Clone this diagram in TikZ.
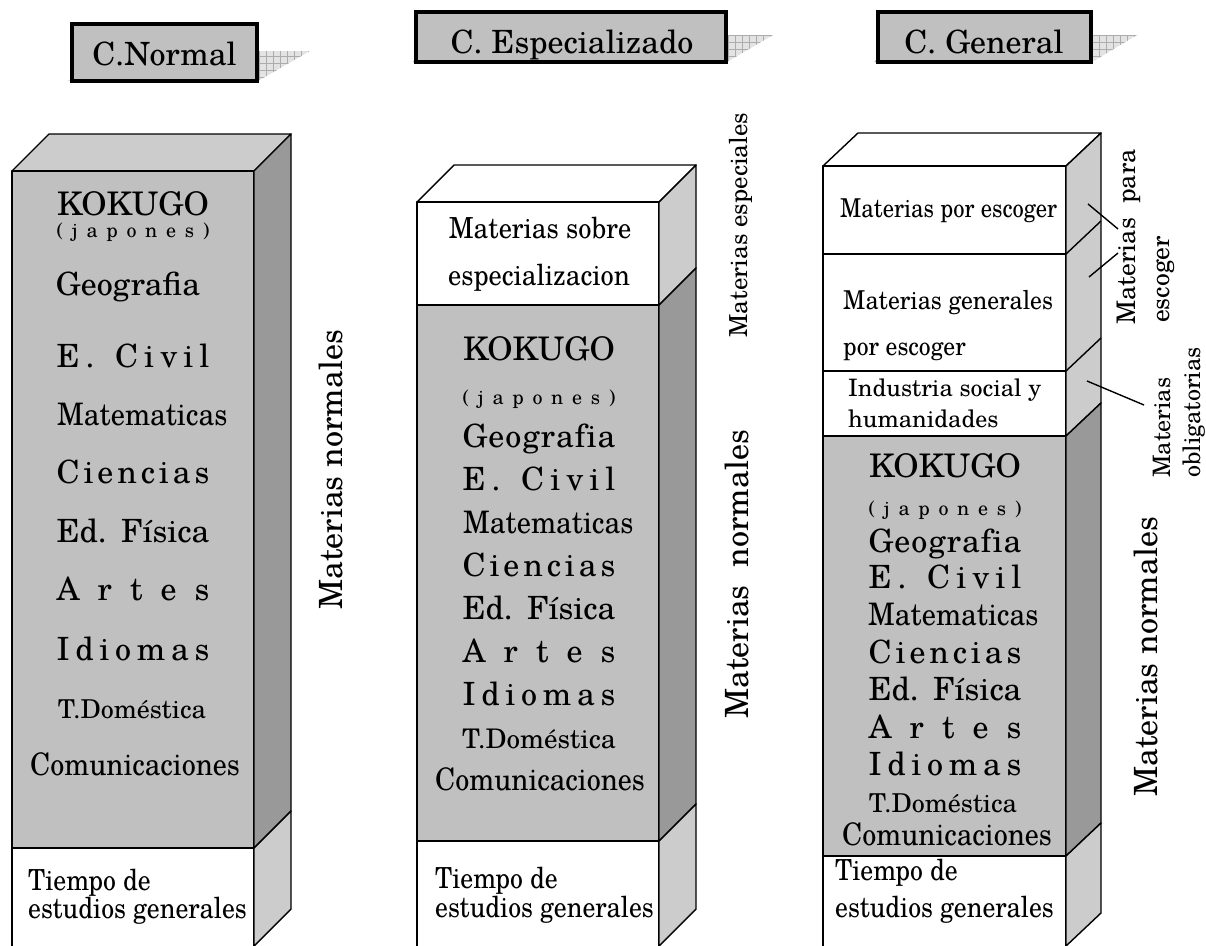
\documentclass[tikz,border=0pt]{standalone}
\usepackage{fontspec}
\usepackage{graphicx}
\setmainfont{texgyreschola-regular.otf}
\definecolor{grayF}{HTML}{C0C0C0}
\definecolor{grayD}{HTML}{999999}
\definecolor{grayL}{HTML}{CCCCCC}
\newcommand\dis[1]{\makebox[153pt][s]{#1}}
\newcommand\fs[1]{\fontsize{#1}{#1}\selectfont}
\newcommand\cx[3]{\scalebox{#1}[1]{\fs{#2}#3}}
\tikzset{
  ln/.style={draw=black, line width=1.4pt, line join=round},
  hbox/.style={draw=black, line width=3.5pt, fill=grayF, rectangle, inner sep=0pt},
  htxt/.style={inner sep=0pt, anchor=base, font=\fs{32}},
  itm/.style={inner sep=0pt, anchor=base, font=\fs{32}},
  lt/.style={inner sep=0pt, anchor=base west},
  rl/.style={inner sep=0pt, rotate=90, anchor=base west},
  shad/.style={fill=gray!22},
  gridl/.style={draw=gray!65, line width=0.5pt},
}
\begin{document}
\begin{tikzpicture}[x=1pt,y=-1pt]
\useasboundingbox (0,0) rectangle (1206,945);
% ---------------- headers ----------------
\begin{scope}
  \clip (67,81) -- (120,51) -- (310,51) -- (258,81) -- cycle;
  \fill[shad] (60,45) rectangle (320,90);
  \draw[gridl, step=7pt] (60,45) grid (320,90);
\end{scope}
\node[hbox, minimum width=185pt, minimum height=57pt] (h1) at (164.5,52.5) {};
\node[htxt] (h1t) at (164.5,65) {C.Normal};
\begin{scope}
  \clip (412,62) -- (460,35) -- (773,35) -- (727,62) -- cycle;
  \fill[shad] (405,30) rectangle (780,70);
  \draw[gridl, step=7pt] (405,30) grid (780,70);
\end{scope}
\node[hbox, minimum width=310pt, minimum height=50pt] (h2) at (571,37) {};
\node[htxt] (h2t) at (572,53) {C. Especializado};
\begin{scope}
  \clip (873,62) -- (920,35) -- (1137,35) -- (1092,62) -- cycle;
  \fill[shad] (865,30) rectangle (1145,70);
  \draw[gridl, step=7pt] (865,30) grid (1145,70);
\end{scope}
\node[hbox, minimum width=213pt, minimum height=50pt] (h3) at (984.5,37) {};
\node[htxt] (h3t) at (984,53) {C. General};
% ---------------- column 1 ----------------
\draw[ln, fill=grayL] (12,171) -- (49,134) -- (291,134) -- (254,171) -- cycle;
\draw[ln, fill=grayF] (12,171) rectangle (254,848);
\draw[ln, fill=white] (12,848) rectangle (254,950);
\draw[ln, fill=grayD] (254,171) -- (291,134) -- (291,811) -- (254,848) -- cycle;
\draw[ln, fill=grayL] (254,848) -- (291,811) -- (291,909) -- (254,946) -- cycle;
\node[itm, font=\fs{32.5}] (c1k) at (133,215) {KOKUGO};
\node[itm, font=\fs{20}] (c1j) at (133,237) {\dis{(\hfil j\hfil a\hfil p\hfil o\hfil n\hfil e\hfil s\hfil )}};
\node[itm] (c1g) at (128,295) {Geografia};
\node[itm] (c1e) at (133,367) {\dis{E\hfil.\hfil\ \hfil C\hfil i\hfil v\hfil i\hfil l}};
\node[itm, anchor=base west] (c1m) at (57,425) {\cx{0.914}{31}{Matematicas}};
\node[itm] (c1c) at (133,483) {\dis{C\hfil i\hfil e\hfil n\hfil c\hfil i\hfil a\hfil s}};
\node[itm] (c1f) at (133,542) {\dis{Ed. Física}};
\node[itm] (c1a) at (133,600) {\dis{A\hfil r\hfil t\hfil e\hfil s}};
\node[itm] (c1i) at (133,660) {\dis{I\hfil d\hfil i\hfil o\hfil m\hfil a\hfil s}};
\node[itm, font=\fs{26}] (c1t) at (132,718) {T.Doméstica};
\node[itm] (c1o) at (135,775) {\cx{0.905}{31}{Comunicaciones}};
\node[lt] (c1b1) at (28,890) {\cx{0.887}{29}{Tiempo de}};
\node[lt] (c1b2) at (28,918) {\cx{0.887}{29}{estudios generales}};
\node[rl, font=\fs{32}] (c1n) at (342,610) {Materias normales};
% ---------------- column 2 ----------------
\draw[ln, fill=white] (417,202) -- (454,165) -- (696,165) -- (659,202) -- cycle;
\draw[ln, fill=white] (417,202) rectangle (659,305);
\draw[ln, fill=grayF] (417,305) rectangle (659,841);
\draw[ln, fill=white] (417,841) rectangle (659,950);
\draw[ln, fill=grayL] (659,202) -- (696,165) -- (696,268) -- (659,305) -- cycle;
\draw[ln, fill=grayD] (659,305) -- (696,268) -- (696,804) -- (659,841) -- cycle;
\draw[ln, fill=grayL] (659,841) -- (696,804) -- (696,909) -- (659,946) -- cycle;
\node[itm] (c2s1) at (540,238) {\cx{0.91}{29}{Materias sobre}};
\node[itm] (c2s2) at (539,285) {\cx{0.91}{29}{especializacion}};
\node[itm, font=\fs{32.5}] (c2k) at (539,360) {KOKUGO};
\node[itm, font=\fs{20}] (c2j) at (539,404) {\dis{(\hfil j\hfil a\hfil p\hfil o\hfil n\hfil e\hfil s\hfil )}};
\node[itm] (c2g) at (539,447) {\dis{G\hfil e\hfil o\hfil g\hfil r\hfil a\hfil f\hfil i\hfil a}};
\node[itm] (c2e) at (539,490) {\dis{E\hfil.\hfil\ \hfil C\hfil i\hfil v\hfil i\hfil l}};
\node[itm, anchor=base west] (c2m) at (463,533) {\cx{0.914}{31}{Matematicas}};
\node[itm] (c2c) at (539,576) {\dis{C\hfil i\hfil e\hfil n\hfil c\hfil i\hfil a\hfil s}};
\node[itm] (c2f) at (539,619) {\dis{Ed. Física}};
\node[itm] (c2a) at (539,662) {\dis{A\hfil r\hfil t\hfil e\hfil s}};
\node[itm] (c2i) at (539,705) {\dis{I\hfil d\hfil i\hfil o\hfil m\hfil a\hfil s}};
\node[itm, font=\fs{27}] (c2t) at (539,748) {T.Doméstica};
\node[itm] (c2o) at (540,790) {\cx{0.905}{31}{Comunicaciones}};
\node[lt] (c2b1) at (435,888) {\cx{0.887}{29}{Tiempo de}};
\node[lt] (c2b2) at (435,917) {\cx{0.887}{29}{estudios generales}};
\node[rl, font=\fs{32}] (c2n) at (748,719) {Materias\ \ normales};
\node[rl, font=\fs{24.8}] (c2x) at (747,338) {Materias especiales};
% ---------------- column 3 ----------------
\draw[ln, fill=white] (823,166) -- (858,133) -- (1101,133) -- (1066,166) -- cycle;
\draw[ln, fill=white] (823,166) rectangle (1066,254);
\draw[ln, fill=white] (823,254) rectangle (1066,371);
\draw[ln, fill=white] (823,371) rectangle (1066,436);
\draw[ln, fill=grayF] (823,436) rectangle (1066,856);
\draw[ln, fill=white] (823,856) rectangle (1066,950);
\draw[ln, fill=grayL] (1066,166) -- (1101,133) -- (1101,403) -- (1066,436) -- cycle;
\draw[ln] (1066,254) -- (1101,221);
\draw[ln] (1066,371) -- (1101,338);
\draw[ln, fill=grayD] (1066,436) -- (1101,403) -- (1101,823) -- (1066,856) -- cycle;
\draw[ln, fill=grayL] (1066,856) -- (1101,823) -- (1101,913) -- (1066,946) -- cycle;
\node[lt] (c3p) at (840,217) {\cx{0.866}{26}{Materias por escoger}};
\node[lt] (c3g1) at (843,309) {\cx{0.91}{26}{Materias generales}};
\node[lt] (c3g2) at (843,355) {\cx{0.91}{26}{por escoger}};
\node[lt, font=\fs{24}] (c3s1) at (848,396) {Industria social y};
\node[lt, font=\fs{24}] (c3s2) at (848,427) {humanidades};
\node[itm, font=\fs{32.5}] (c3k) at (945,477) {KOKUGO};
\node[itm, font=\fs{20}] (c3j) at (945,515) {\dis{(\hfil j\hfil a\hfil p\hfil o\hfil n\hfil e\hfil s\hfil )}};
\node[itm] (c3g) at (945,552) {\dis{G\hfil e\hfil o\hfil g\hfil r\hfil a\hfil f\hfil i\hfil a}};
\node[itm] (c3e) at (945,588) {\dis{E\hfil.\hfil\ \hfil C\hfil i\hfil v\hfil i\hfil l}};
\node[itm, anchor=base west] (c3m) at (868,625) {\cx{0.914}{31}{Matematicas}};
\node[itm] (c3c) at (945,663) {\dis{C\hfil i\hfil e\hfil n\hfil c\hfil i\hfil a\hfil s}};
\node[itm] (c3f) at (945,700) {\dis{Ed. Física}};
\node[itm] (c3a) at (945,738) {\dis{A\hfil r\hfil t\hfil e\hfil s}};
\node[itm] (c3i) at (945,775) {\dis{I\hfil d\hfil i\hfil o\hfil m\hfil a\hfil s}};
\node[itm, font=\fs{26}] (c3t) at (943,812) {T.Doméstica};
\node[itm] (c3o) at (947,845) {\cx{0.905}{31}{Comunicaciones}};
\node[lt] (c3b1) at (835,880) {\cx{0.887}{29}{Tiempo de}};
\node[lt] (c3b2) at (835,917) {\cx{0.887}{29}{estudios generales}};
\node[rl, font=\fs{32}] (c3n) at (1157,797) {Materias normales};
% right labels
\node[rl, font=\fs{25.6}] (lpara) at (1135,325) {Materias\ \ para};
\node[rl, font=\fs{25.6}] (lesc) at (1169,323) {escoger};
\node[rl, font=\fs{24}] (lob1) at (1170,478) {Materias};
\node[rl, font=\fs{24}] (lob2) at (1200,478) {obligatorias};
\coordinate (pa1) at (1088,204); \coordinate (pa2) at (1118,229);
\coordinate (pb1) at (1089,277); \coordinate (pb2) at (1118,253);
\coordinate (pc1) at (1087,381); \coordinate (pc2) at (1144,405);
\draw[ln] (pa1) -- (pa2);
\draw[ln] (pb1) -- (pb2);
\draw[ln] (pc1) -- (pc2);
\end{tikzpicture}
\end{document}
